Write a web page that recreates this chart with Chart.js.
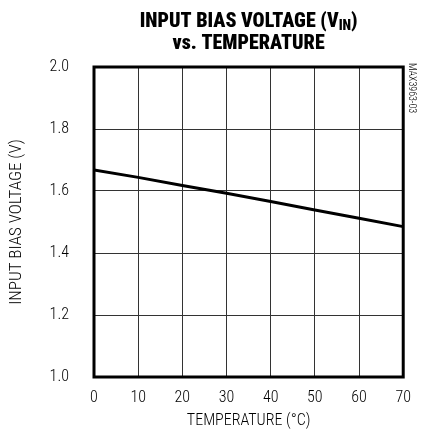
<!DOCTYPE html>
<html>
<head>
<meta charset="utf-8">
<script src="https://cdn.jsdelivr.net/npm/chart.js@4/dist/chart.umd.min.js"></script>
<style>
html,body{margin:0;padding:0;background:#fff;}
#wrap{width:422px;height:434px;position:relative;}
</style>
</head>
<body>
<div id="wrap"><canvas id="c" width="422" height="434"></canvas></div>
<script>
const temperatures = [0, 10, 20, 30, 40, 50, 60, 70];
const biasVoltage = [1.668, 1.644, 1.618, 1.593, 1.566, 1.539, 1.512, 1.485];
const xTicks = [0, 10, 20, 30, 40, 50, 60, 70];
const yTicks = [1.0, 1.2, 1.4, 1.6, 1.8, 2.0];
const titleLine1 = "INPUT BIAS VOLTAGE (V";
const titleSub = "IN";
const titleLine1End = ")";
const titleLine2 = "vs. TEMPERATURE";
const xTitle = "TEMPERATURE (°C)";
const yTitle = "INPUT BIAS VOLTAGE (V)";
const sideNote = "MAX3963-03";

const FONT = '"Roboto Condensed", "Liberation Sans Narrow", "Liberation Sans", Arial, sans-serif';

const decor = {
  id: 'decor',
  afterDraw(chart) {
    const ctx = chart.ctx;
    const a = chart.chartArea;
    ctx.save();
    // frame
    ctx.strokeStyle = '#000';
    ctx.lineWidth = 3;
    ctx.strokeRect(a.left, a.top, a.right - a.left, a.bottom - a.top);
    // title
    ctx.fillStyle = '#000';
    ctx.textBaseline = 'alphabetic';
    const cx = (a.left + a.right) / 2;
    const big = '900 20px ' + FONT;
    const small = '900 14px ' + FONT;
    ctx.font = big;
    const w1 = ctx.measureText(titleLine1).width;
    const w3 = ctx.measureText(titleLine1End).width;
    ctx.font = small;
    const w2 = ctx.measureText(titleSub).width;
    let x = cx - (w1 + w2 + w3) / 2;
    const y1 = 27;
    ctx.font = big; ctx.textAlign = 'left';
    ctx.fillText(titleLine1, x, y1);
    x += w1;
    ctx.font = small;
    ctx.fillText(titleSub, x, y1 + 3);
    x += w2;
    ctx.font = big;
    ctx.fillText(titleLine1End, x, y1);
    ctx.textAlign = 'center';
    ctx.fillText(titleLine2, cx, 49);
    // x title
    ctx.font = '300 16px ' + FONT;
    ctx.textBaseline = 'middle';
    ctx.fillText(xTitle, cx, 421);
    // y title
    ctx.save();
    ctx.font = '300 17px ' + FONT;
    ctx.translate(17, (a.top + a.bottom) / 2);
    ctx.rotate(-Math.PI / 2);
    ctx.fillText(yTitle, 0, 0);
    ctx.restore();
    // side note
    ctx.save();
    ctx.font = '300 10px ' + FONT;
    ctx.translate(411, a.top - 4);
    ctx.rotate(Math.PI / 2);
    ctx.textAlign = 'left';
    ctx.fillText(sideNote, 0, 0);
    ctx.restore();
    ctx.restore();
  }
};

new Chart(document.getElementById('c'), {
  type: 'line',
  data: {
    datasets: [{
      data: temperatures.map((t, i) => ({x: t, y: biasVoltage[i]})),
      borderColor: '#000',
      borderWidth: 3,
      pointRadius: 0,
      tension: 0,
      fill: false
    }]
  },
  options: {
    responsive: false,
    animation: false,
    devicePixelRatio: 1,
    layout: { padding: { top: 67, right: 18, left: 0, bottom: 0 } },
    plugins: { legend: { display: false }, tooltip: { enabled: false }, title: { display: false } },
    scales: {
      x: {
        type: 'linear', min: 0, max: 70,
        afterBuildTicks(s) { s.ticks = xTicks.map(v => ({value: v})); },
        afterFit(s) { s.height = 57; },
        grid: { color: '#333', lineWidth: 1, drawTicks: false },
        border: { display: false },
        ticks: { color: '#000', padding: 11, font: { family: FONT, size: 16, weight: 300 }, maxRotation: 0 }
      },
      y: {
        type: 'linear', min: 1.0, max: 2.0,
        afterBuildTicks(s) { s.ticks = yTicks.map(v => ({value: v})); },
        afterFit(s) { s.width = 94; },
        grid: { color: '#333', lineWidth: 1, drawTicks: false },
        border: { display: false },
        ticks: { color: '#000', padding: 25, font: { family: FONT, size: 16, weight: 300 }, callback: v => v.toFixed(1) }
      }
    }
  },
  plugins: [decor]
});
</script>
</body>
</html>
